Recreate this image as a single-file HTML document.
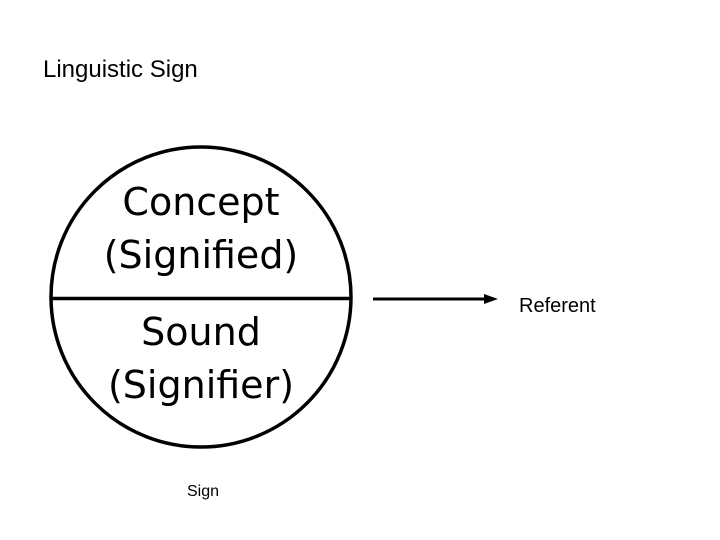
<!DOCTYPE html>
<html><head><style>
html,body{margin:0;padding:0;background:#fff;}
body{width:720px;height:540px;position:relative;overflow:hidden;font-family:"Liberation Sans",sans-serif;}
</style></head><body>
<svg width="720" height="540" xmlns="http://www.w3.org/2000/svg" style="position:absolute;left:0;top:0">
<text x="43" y="77" font-family="Liberation Sans, sans-serif" font-size="24" fill="#000">Linguistic Sign</text>
<circle cx="201" cy="297" r="150" fill="none" stroke="#000" stroke-width="3.5"/>
<line x1="51" y1="298.5" x2="351" y2="298.5" stroke="#000" stroke-width="3.5"/>
<g font-family="DejaVu Sans, Liberation Sans, sans-serif" font-size="38" fill="#000" text-anchor="middle">
<text x="201" y="215">Concept</text>
<text x="201" y="268">(Signified)</text>
<text x="201" y="345">Sound</text>
<text x="201" y="398">(Signifier)</text>
</g>
<line x1="373" y1="299" x2="487" y2="299" stroke="#000" stroke-width="3"/>
<polygon points="484,294 498,299 484,304" fill="#000"/>
<text x="519" y="312" font-family="Liberation Sans, sans-serif" font-size="20" fill="#000">Referent</text>
<text x="187" y="496" font-family="Liberation Sans, sans-serif" font-size="16" fill="#000">Sign</text>
</svg>
</body></html>
